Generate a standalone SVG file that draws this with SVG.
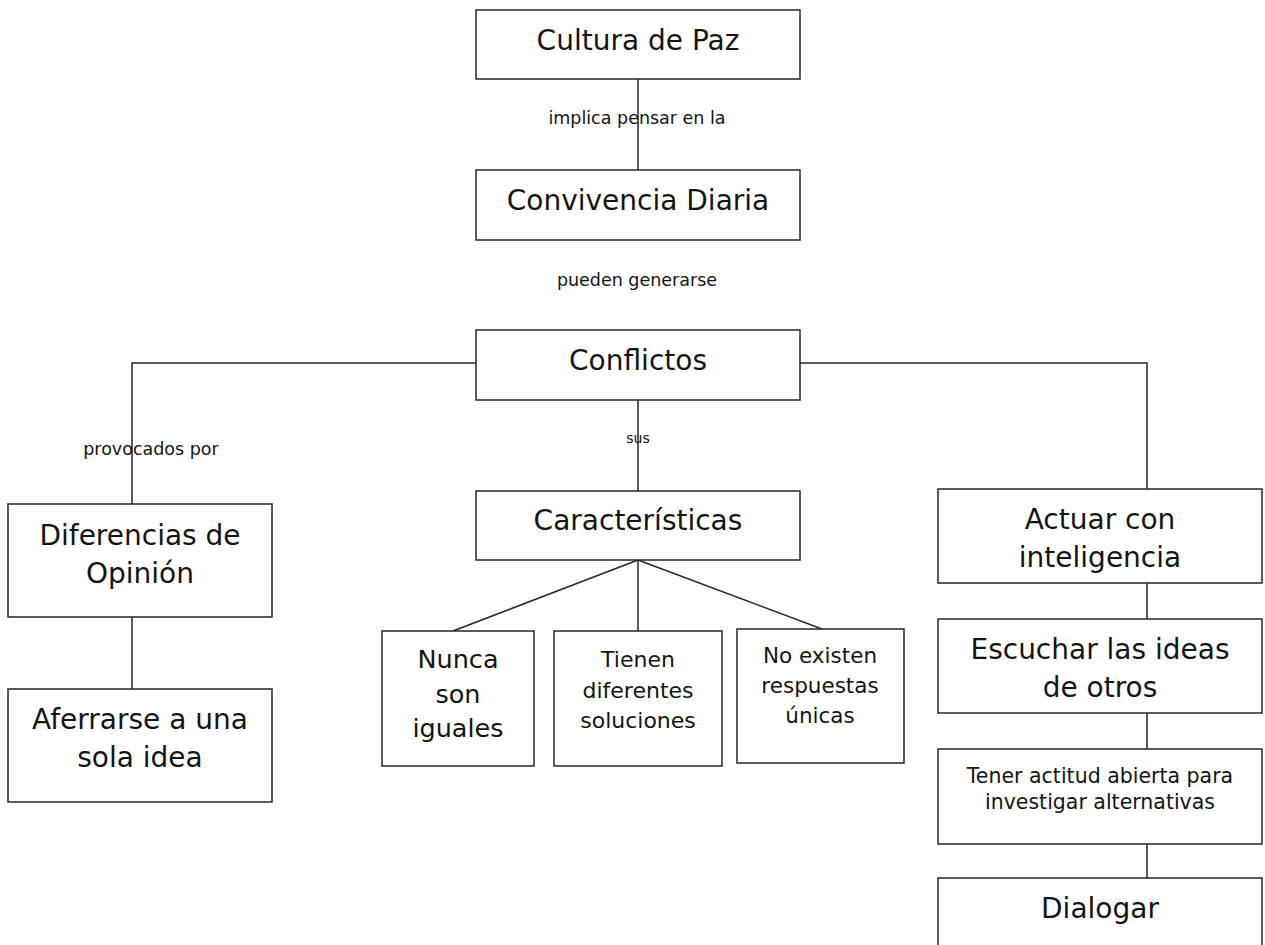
<svg xmlns="http://www.w3.org/2000/svg" width="1265" height="945" viewBox="0 0 1265 945">
<style>
  .box { fill: #ffffff; stroke: #262626; stroke-width: 1.5; }
  .conn { fill: none; stroke: #262626; stroke-width: 1.5; }
  text { font-family: "DejaVu Sans", "Liberation Sans", sans-serif; fill: #141414; text-anchor: middle; }
  .big { font-size: 28px; }
  .lbl { font-size: 17.5px; }
</style>
<rect x="0" y="0" width="1265" height="945" fill="#ffffff"/>
<g id="connectors">
  <line class="conn" x1="638" y1="79" x2="638" y2="170"/>
  <polyline class="conn" points="476,363 132,363 132,504"/>
  <polyline class="conn" points="800,363 1147,363 1147,489"/>
  <line class="conn" x1="638" y1="400" x2="638" y2="491"/>
  <line class="conn" x1="132" y1="617" x2="132" y2="689"/>
  <line class="conn" x1="638" y1="560" x2="453" y2="631"/>
  <line class="conn" x1="638" y1="560" x2="638" y2="631"/>
  <line class="conn" x1="638" y1="560" x2="822" y2="629"/>
  <line class="conn" x1="1147" y1="583" x2="1147" y2="619"/>
  <line class="conn" x1="1147" y1="713" x2="1147" y2="749"/>
  <line class="conn" x1="1147" y1="844" x2="1147" y2="878"/>
  <text class="lbl" x="637" y="124">implica pensar en la</text>
  <text class="lbl" x="637" y="286">pueden generarse</text>
  <text class="lbl" x="151" y="455">provocados por</text>
  <text x="638" y="443" style="font-size:14px">sus</text>
</g>
<g id="cultura">
  <rect class="box" x="476" y="10" width="324" height="69"/>
  <text class="big" x="638" y="50">Cultura de Paz</text>
</g>
<g id="convivencia">
  <rect class="box" x="476" y="170" width="324" height="70"/>
  <text class="big" x="638" y="210">Convivencia Diaria</text>
</g>
<g id="conflictos">
  <rect class="box" x="476" y="330" width="324" height="70"/>
  <text class="big" x="638" y="370">Conflictos</text>
</g>
<g id="caracteristicas">
  <rect class="box" x="476" y="491" width="324" height="69"/>
  <text class="big" x="638" y="530">Características</text>
</g>
<g id="diferencias">
  <rect class="box" x="8" y="504" width="264" height="113"/>
  <text class="big" x="140" y="545">Diferencias de</text>
  <text class="big" x="140" y="583">Opinión</text>
</g>
<g id="aferrarse">
  <rect class="box" x="8" y="689" width="264" height="113"/>
  <text class="big" x="140" y="729">Aferrarse a una</text>
  <text class="big" x="140" y="767">sola idea</text>
</g>
<g id="nunca">
  <rect class="box" x="382" y="631" width="152" height="135"/>
  <text x="458" y="668" style="font-size:25.5px">Nunca</text>
  <text x="458" y="703" style="font-size:25.5px">son</text>
  <text x="458" y="737" style="font-size:25.5px">iguales</text>
</g>
<g id="tienen">
  <rect class="box" x="554" y="631" width="168" height="135"/>
  <text x="638" y="667" style="font-size:22px">Tienen</text>
  <text x="638" y="698" style="font-size:22px">diferentes</text>
  <text x="638" y="728" style="font-size:22px">soluciones</text>
</g>
<g id="noexisten">
  <rect class="box" x="737" y="629" width="167" height="134"/>
  <text x="820" y="663" style="font-size:21.5px">No existen</text>
  <text x="820" y="693" style="font-size:21.5px">respuestas</text>
  <text x="820" y="723" style="font-size:21.5px">únicas</text>
</g>
<g id="actuar">
  <rect class="box" x="938" y="489" width="324" height="94"/>
  <text class="big" x="1100" y="529">Actuar con</text>
  <text class="big" x="1100" y="567">inteligencia</text>
</g>
<g id="escuchar">
  <rect class="box" x="938" y="619" width="324" height="94"/>
  <text class="big" x="1100" y="659">Escuchar las ideas</text>
  <text class="big" x="1100" y="697">de otros</text>
</g>
<g id="tener">
  <rect class="box" x="938" y="749" width="324" height="95"/>
  <text x="1100" y="783" style="font-size:20.5px">Tener actitud abierta para</text>
  <text x="1100" y="809" style="font-size:20.5px">investigar alternativas</text>
</g>
<g id="dialogar">
  <rect class="box" x="938" y="878" width="324" height="94"/>
  <text class="big" x="1100" y="918">Dialogar</text>
</g>
</svg>
